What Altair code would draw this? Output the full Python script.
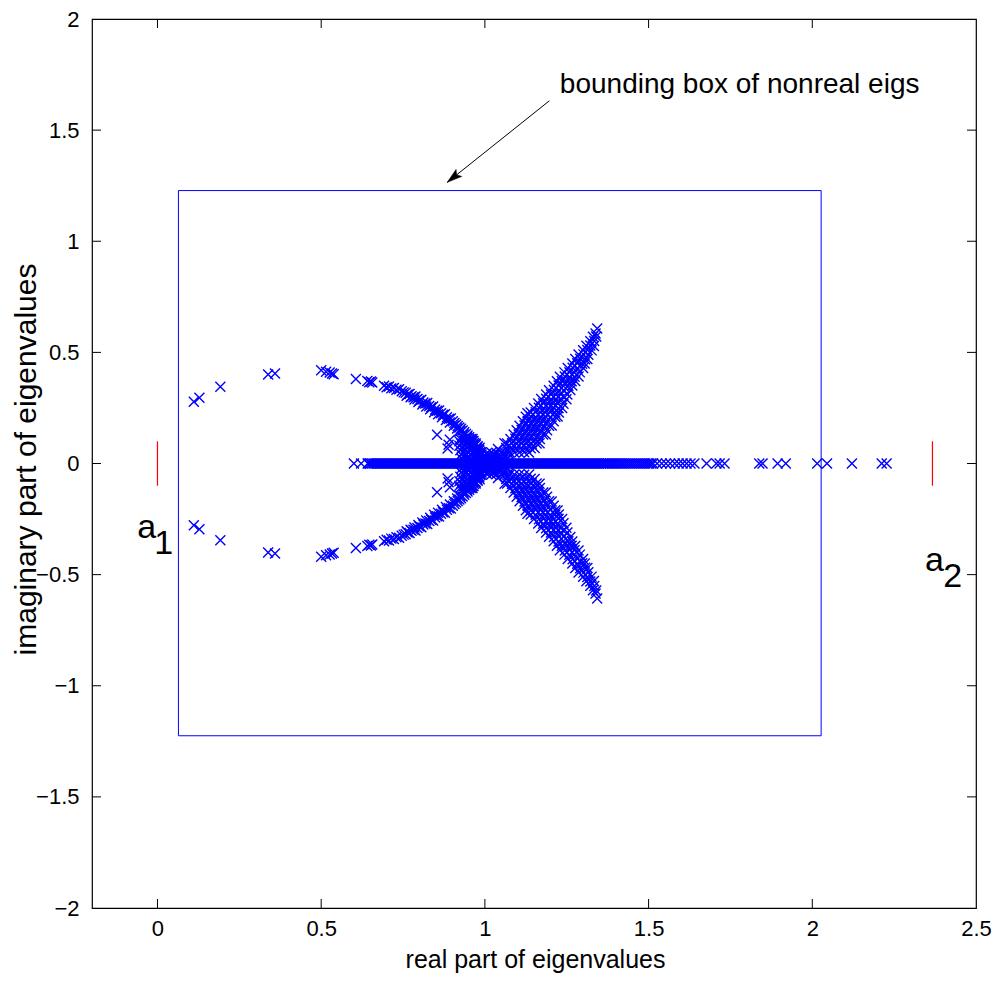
import altair as alt
import pandas as pd

# ---------------- data ----------------
X_DOMAIN = [-0.2, 2.5]
Y_DOMAIN = [-2, 2]
x_tick_values = [0, 0.5, 1, 1.5, 2, 2.5]
y_tick_values = [-2, -1.5, -1, -0.5, 0, 0.5, 1, 1.5, 2]
x_inner_ticks = [0, 0.5, 1, 1.5, 2]
y_inner_ticks = [-1.5, -1, -0.5, 0, 0.5, 1, 1.5]

# real eigenvalues (imaginary part 0)
real_eigs = [
    0.600, 0.622,
    0.642, 0.650, 0.660, 0.670, 0.680, 0.690, 0.700, 0.710, 0.720, 0.730,
    0.740, 0.750, 0.760, 0.770, 0.780, 0.790, 0.800, 0.810, 0.820, 0.830,
    0.840, 0.850, 0.860, 0.870, 0.880, 0.890, 0.900, 0.910, 0.920, 0.930,
    0.940, 0.950, 0.960, 0.970, 0.980, 0.990, 1.000, 1.010, 1.020, 1.030,
    1.040, 1.050, 1.060, 1.070, 1.080, 1.090, 1.100, 1.110, 1.120, 1.130,
    1.140, 1.150, 1.160, 1.170, 1.180, 1.190, 1.200, 1.210, 1.220, 1.230,
    1.240, 1.250, 1.260, 1.270, 1.280, 1.290, 1.300, 1.310, 1.320, 1.330,
    1.340, 1.350, 1.360, 1.370, 1.382, 1.394, 1.406, 1.418, 1.430, 1.442,
    1.454, 1.466, 1.478, 1.490, 1.502, 1.514, 1.526, 1.540, 1.553, 1.566,
    1.580, 1.592, 1.604, 1.616, 1.628, 1.640,
    1.677, 1.707, 1.717, 1.732, 1.838, 1.848, 1.894, 1.919,
    2.015, 2.045, 2.121, 2.212, 2.227,
]
real_eigs_dense = [
    0.645, 0.655, 0.665, 0.675, 0.685, 0.695, 0.705, 0.715, 0.725, 0.735,
    0.745, 0.755, 0.765, 0.775, 0.785, 0.795, 0.805, 0.815, 0.825, 0.835,
    0.845, 0.855, 0.865, 0.875, 0.885, 0.895, 0.905, 0.915, 0.925, 0.935,
    0.945, 0.955, 0.965, 0.975, 0.985, 0.995, 1.005, 1.015, 1.025, 1.035,
    1.045, 1.055, 1.065, 1.075, 1.085, 1.095, 1.105, 1.115, 1.125, 1.135,
    1.145, 1.155, 1.165, 1.175, 1.185, 1.195, 1.205, 1.215, 1.225, 1.235,
    1.245, 1.255, 1.265, 1.275, 1.285, 1.295, 1.305, 1.315, 1.325, 1.335,
    1.345, 1.355, 1.365, 1.376, 1.388, 1.400, 1.412, 1.424, 1.436, 1.448,
    1.460, 1.472, 1.484, 1.496, 1.508,
]

# nonreal eigenvalues, upper half (each comes with its conjugate)
left_branch = [
    (0.111, 0.278), (0.128, 0.296), (0.192, 0.345), (0.338, 0.400),
    (0.359, 0.405), (0.500, 0.420), (0.515, 0.413), (0.526, 0.409),
    (0.533, 0.405), (0.538, 0.402), (0.606, 0.380), (0.641, 0.371),
    (0.647, 0.366), (0.652, 0.369), (0.656, 0.364), (0.692, 0.350),
    (0.700, 0.343), (0.707, 0.346), (0.714, 0.338), (0.722, 0.340),
    (0.730, 0.332), (0.738, 0.334), (0.746, 0.325), (0.752, 0.320),
    (0.758, 0.318), (0.764, 0.310), (0.770, 0.313), (0.776, 0.303),
    (0.782, 0.298), (0.788, 0.301), (0.794, 0.290), (0.800, 0.284),
    (0.806, 0.287), (0.812, 0.275), (0.818, 0.270), (0.824, 0.272),
    (0.830, 0.259), (0.836, 0.253), (0.842, 0.256), (0.848, 0.243),
    (0.854, 0.237), (0.860, 0.239), (0.866, 0.226), (0.872, 0.219),
    (0.878, 0.222), (0.884, 0.208), (0.890, 0.201), (0.896, 0.203),
    (0.902, 0.190), (0.907, 0.182), (0.912, 0.176), (0.917, 0.169),
    (0.922, 0.162), (0.927, 0.156), (0.932, 0.148), (0.937, 0.141),
    (0.942, 0.133), (0.947, 0.126), (0.952, 0.118), (0.957, 0.110),
    (0.962, 0.101), (0.967, 0.092), (0.972, 0.083), (0.977, 0.073),
    (0.982, 0.063), (0.986, 0.052), (0.990, 0.041), (0.994, 0.030),
    (0.997, 0.019), (0.999, 0.008),
    (0.854, 0.129), (0.889, 0.084), (0.893, 0.107), (0.886, 0.068),
]
left_branch_inner = [
    (0.761, 0.305), (0.773, 0.298), (0.785, 0.288), (0.797, 0.277),
    (0.809, 0.265), (0.821, 0.257), (0.833, 0.244), (0.845, 0.231),
    (0.857, 0.222), (0.869, 0.208), (0.881, 0.196), (0.893, 0.185),
    (0.905, 0.170), (0.915, 0.158), (0.925, 0.146), (0.935, 0.131),
    (0.945, 0.116), (0.955, 0.100), (0.965, 0.083), (0.975, 0.064),
    (0.983, 0.045), (0.990, 0.025),
]

cusp = [
    (0.930, 0.120), (0.945, 0.118),
    (0.925, 0.110), (0.938, 0.111), (0.952, 0.109), (0.962, 0.110),
    (0.922, 0.100), (0.937, 0.102), (0.952, 0.098), (0.965, 0.101),
    (0.928, 0.090), (0.944, 0.091), (0.959, 0.089), (0.972, 0.090),
    (0.922, 0.080), (0.937, 0.082), (0.952, 0.079), (0.966, 0.081), (0.978, 0.078),
    (0.930, 0.070), (0.945, 0.071), (0.960, 0.069), (0.974, 0.070), (0.984, 0.071),
    (0.925, 0.060), (0.940, 0.062), (0.955, 0.059), (0.970, 0.061), (0.983, 0.058),
    (0.933, 0.050), (0.948, 0.051), (0.963, 0.049), (0.978, 0.050), (0.990, 0.051),
    (0.928, 0.040), (0.943, 0.042), (0.958, 0.039), (0.973, 0.041), (0.987, 0.038),
    (0.935, 0.030), (0.950, 0.031), (0.965, 0.029), (0.980, 0.030), (0.994, 0.031),
    (0.930, 0.020), (0.945, 0.022), (0.960, 0.019), (0.975, 0.021), (0.990, 0.018),
    (0.940, 0.010), (0.955, 0.011), (0.970, 0.009), (0.985, 0.010), (1.000, 0.011),
    (1.005, 0.045), (1.020, 0.050), (1.035, 0.048), (1.050, 0.052),
    (1.012, 0.040), (1.027, 0.040), (1.042, 0.040), (1.057, 0.040), (1.072, 0.045),
    (1.000, 0.030), (1.015, 0.032), (1.030, 0.035), (1.045, 0.030), (1.060, 0.035),
    (1.008, 0.024), (1.023, 0.024), (1.038, 0.024), (1.053, 0.024), (1.068, 0.024),
    (1.005, 0.015), (1.020, 0.018), (1.035, 0.015), (1.050, 0.017), (1.065, 0.020),
    (1.012, 0.008), (1.027, 0.008), (1.042, 0.008), (1.057, 0.008), (1.072, 0.008),
]

right_arm = [
    (1.060, 0.050), (1.075, 0.051), (1.090, 0.049), (1.105, 0.050), (1.120, 0.051), (1.135, 0.049),
    (1.065, 0.070), (1.080, 0.071), (1.095, 0.069), (1.110, 0.070), (1.125, 0.071), (1.140, 0.069), (1.152, 0.070),
    (1.068, 0.090), (1.083, 0.091), (1.098, 0.089), (1.113, 0.090), (1.128, 0.091), (1.143, 0.089), (1.158, 0.090), (1.167, 0.091),
    (1.078, 0.110), (1.093, 0.111), (1.108, 0.109), (1.123, 0.110), (1.138, 0.111), (1.153, 0.109), (1.168, 0.110),
    (1.088, 0.130), (1.103, 0.131), (1.118, 0.129), (1.133, 0.130), (1.148, 0.131), (1.163, 0.129), (1.178, 0.130), (1.186, 0.131),
    (1.097, 0.150), (1.112, 0.151), (1.127, 0.149), (1.142, 0.150), (1.157, 0.151), (1.172, 0.149), (1.190, 0.150),
    (1.106, 0.170), (1.121, 0.171), (1.136, 0.169), (1.151, 0.170), (1.166, 0.171), (1.181, 0.169), (1.196, 0.170), (1.204, 0.171),
    (1.116, 0.190), (1.131, 0.191), (1.146, 0.189), (1.161, 0.190), (1.176, 0.191), (1.191, 0.189), (1.210, 0.190),
    (1.125, 0.210), (1.140, 0.211), (1.155, 0.209), (1.170, 0.210), (1.185, 0.211), (1.200, 0.209), (1.215, 0.210), (1.222, 0.211),
    (1.140, 0.230), (1.155, 0.231), (1.170, 0.229), (1.185, 0.230), (1.200, 0.231), (1.215, 0.229), (1.226, 0.230),
    (1.150, 0.250), (1.165, 0.251), (1.180, 0.249), (1.195, 0.250), (1.210, 0.251), (1.225, 0.249), (1.236, 0.250),
    (1.163, 0.270), (1.178, 0.271), (1.193, 0.269), (1.208, 0.270), (1.223, 0.271), (1.240, 0.269),
    (1.172, 0.290), (1.187, 0.291), (1.202, 0.289), (1.217, 0.290), (1.232, 0.291), (1.249, 0.289),
    (1.187, 0.310), (1.202, 0.311), (1.217, 0.309), (1.232, 0.310), (1.252, 0.311),
    (1.196, 0.330), (1.211, 0.331), (1.226, 0.329), (1.241, 0.330), (1.261, 0.331),
    (1.210, 0.350), (1.225, 0.351), (1.240, 0.349), (1.255, 0.350), (1.267, 0.351),
    (1.220, 0.370), (1.235, 0.371), (1.250, 0.369), (1.265, 0.370), (1.276, 0.371),
    (1.229, 0.390), (1.244, 0.391), (1.259, 0.389), (1.274, 0.390), (1.286, 0.391),
    (1.243, 0.410), (1.258, 0.411), (1.273, 0.409), (1.290, 0.410),
    (1.253, 0.430), (1.268, 0.431), (1.283, 0.429), (1.300, 0.430),
    (1.267, 0.450), (1.282, 0.451), (1.297, 0.449), (1.305, 0.450),
    (1.276, 0.470), (1.291, 0.471), (1.306, 0.469), (1.313, 0.470),
    (1.286, 0.490), (1.301, 0.491), (1.316, 0.489),
    (1.300, 0.510), (1.313, 0.511), (1.326, 0.509),
    (1.310, 0.530), (1.322, 0.531), (1.333, 0.529),
    (1.322, 0.550), (1.334, 0.551),
    (1.330, 0.570), (1.340, 0.571),
    (1.338, 0.585), (1.343, 0.607),
    (1.130, 0.226), (1.060, 0.091), (1.040, 0.065),
]

# bounding box of nonreal eigenvalues
box_re = [0.064, 2.027]
box_im = [-1.225, 1.228]

# interval end markers a1, a2
a_marker_re = [0.0, 2.367]
a_marker_half = 0.1

# ---------------- tables ----------------
rows = [{"re": r, "im": 0.0} for r in real_eigs + real_eigs_dense]
for group in (left_branch, left_branch_inner, cusp, right_arm):
    for r, i in group:
        rows.append({"re": r, "im": i})
        rows.append({"re": r, "im": -i})
eigs = pd.DataFrame(rows)

box_df = pd.DataFrame({"x1": [box_re[0]], "x2": [box_re[1]],
                       "y1": [box_im[0]], "y2": [box_im[1]]})
marker_df = pd.DataFrame({"re": a_marker_re,
                          "lo": [-a_marker_half] * 2, "hi": [a_marker_half] * 2})
a_text_df = pd.DataFrame({"x": [-0.062, 2.344], "y": [-0.336, -0.484], "t": ["a", "a"]})
sub_text_df = pd.DataFrame({"x": [-0.010, 2.400], "y": [-0.408, -0.556], "t": ["1", "2"]})
arrow_df = pd.DataFrame({"x": [1.197], "y": [1.632], "x2": [0.885], "y2": [1.265]})
note_df = pd.DataFrame({"x": [1.229], "y": [1.668], "t": ["bounding box of nonreal eigs"]})
xt_df = pd.DataFrame({"v": x_inner_ticks})
yt_df = pd.DataFrame({"v": y_inner_ticks})

W, H = 884, 889
FONT = "Liberation Sans, Arial, Helvetica"

xs = alt.Scale(domain=X_DOMAIN, nice=False, zero=False)
ys = alt.Scale(domain=Y_DOMAIN, nice=False, zero=False)

xaxis = alt.Axis(values=x_tick_values, format="~g", title="real part of eigenvalues",
                 grid=False, ticks=False, tickSize=0, domain=False,
                 labelFlush=False, labelOverlap=False, labelFont=FONT,
                 labelFontSize=22, labelColor="black", labelPadding=10,
                 titleFont=FONT, titleFontSize=25, titleFontWeight="normal",
                 titleColor="black", titleX=443, titleY=59,
                 titleBaseline="alphabetic", titleAlign="center")
yaxis = alt.Axis(values=y_tick_values, format="~g", title="imaginary part of eigenvalues",
                 grid=False, ticks=False, tickSize=0, domain=False,
                 labelFlush=False, labelOverlap=False, labelFont=FONT,
                 labelFontSize=22, labelColor="black", labelPadding=13,
                 titleFont=FONT, titleFontSize=30, titleFontWeight="normal",
                 titleColor="black", titleX=-57, titleY=440,
                 titleBaseline="alphabetic", titleAlign="center", titleAngle=270)


def X(f):
    return alt.X(f, type="quantitative", scale=xs, axis=xaxis)


def Y(f):
    return alt.Y(f, type="quantitative", scale=ys, axis=yaxis)


CROSS = "M-1,-1L1,1M-1,1L1,-1"
ARROW = "M0,0L0.6,2L0,1.6L-0.6,2Z"

box = alt.Chart(box_df).mark_rect(filled=False, stroke="#0000ff", strokeWidth=1).encode(
    x=X("x1"), x2="x2", y=Y("y1"), y2="y2")

points = alt.Chart(eigs).mark_point(shape=CROSS, filled=False, stroke="#0000ff",
                                    strokeWidth=1.4, size=100, opacity=1).encode(
    x=X("re"), y=Y("im"))

markers = alt.Chart(marker_df).mark_rule(color="#ff0000", strokeWidth=1.2).encode(
    x=X("re"), y=Y("lo"), y2="hi")

a_text = alt.Chart(a_text_df).mark_text(align="left", baseline="alphabetic",
                                        font=FONT, fontSize=34, color="black").encode(
    x=X("x"), y=Y("y"), text="t:N")
sub_text = alt.Chart(sub_text_df).mark_text(align="left", baseline="alphabetic",
                                            font=FONT, fontSize=34, color="black").encode(
    x=X("x"), y=Y("y"), text="t:N")

arrow_line = alt.Chart(arrow_df).mark_rule(color="black", strokeWidth=1).encode(
    x=X("x"), y=Y("y"), x2="x2", y2="y2")
arrow_head = alt.Chart(arrow_df).mark_point(shape=ARROW, filled=True, fill="black",
                                            stroke="black", strokeWidth=0.5,
                                            size=225, angle=231, opacity=1).encode(
    x=X("x2"), y=Y("y2"))

note = alt.Chart(note_df).mark_text(align="left", baseline="alphabetic", font=FONT,
                                    fontSize=28, color="black").encode(
    x=X("x"), y=Y("y"), text="t:N")

TL = 9
tick_bottom = alt.Chart(xt_df).mark_rule(color="black", strokeWidth=1).encode(
    x=X("v"), y=alt.value(H), y2=alt.value(H - TL))
tick_top = alt.Chart(xt_df).mark_rule(color="black", strokeWidth=1).encode(
    x=X("v"), y=alt.value(0), y2=alt.value(TL))
tick_left = alt.Chart(yt_df).mark_rule(color="black", strokeWidth=1).encode(
    y=Y("v"), x=alt.value(0), x2=alt.value(TL))
tick_right = alt.Chart(yt_df).mark_rule(color="black", strokeWidth=1).encode(
    y=Y("v"), x=alt.value(W), x2=alt.value(W - TL))

chart = alt.layer(
    box, points, markers, a_text, sub_text, arrow_line, arrow_head, note,
    tick_bottom, tick_top, tick_left, tick_right,
).properties(
    width=W, height=H,
    autosize=alt.AutoSizeParams(type="none"),
    padding={"left": 84, "top": 11, "right": 16, "bottom": 68},
    background="white",
).configure_view(stroke="black", strokeWidth=1.2)

chart.save("out.html", embed_options={"renderer": "svg", "actions": False})
